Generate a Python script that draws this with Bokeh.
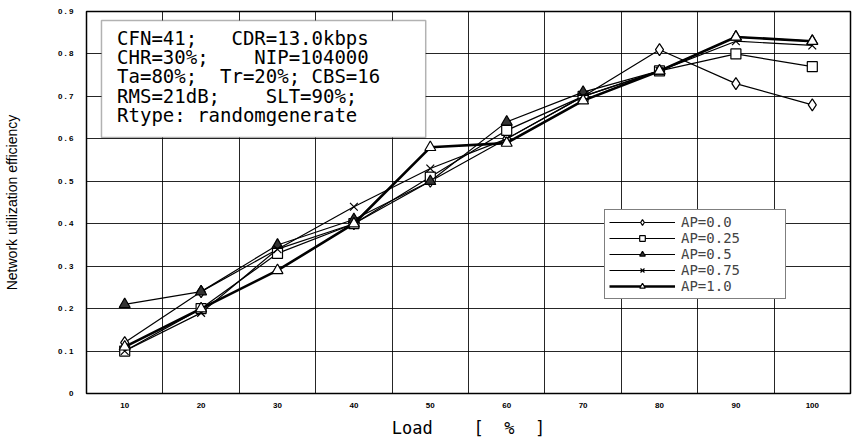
from bokeh.plotting import figure
from bokeh.models import FixedTicker, CustomJSTickFormatter, BoxAnnotation, Label, Range1d
from bokeh.embed import file_html
from bokeh.resources import INLINE

NB = "\u00a0"

# ---- data ----
load = [10, 20, 30, 40, 50, 60, 70, 80, 90, 100]
ap_00 = [0.12, 0.24, 0.34, 0.40, 0.50, 0.60, 0.70, 0.81, 0.73, 0.68]
ap_025 = [0.10, 0.20, 0.33, 0.40, 0.51, 0.62, 0.70, 0.76, 0.80, 0.77]
ap_05 = [0.21, 0.24, 0.35, 0.41, 0.50, 0.64, 0.71, 0.76, 0.84, 0.83]
ap_075 = [0.10, 0.19, 0.34, 0.44, 0.53, 0.60, 0.70, 0.76, 0.83, 0.82]
ap_10 = [0.11, 0.20, 0.29, 0.40, 0.58, 0.59, 0.69, 0.76, 0.84, 0.83]
series_names = ["AP=0.0", "AP=0.25", "AP=0.5", "AP=0.75", "AP=1.0"]
y_ticks = [0.0, 0.1, 0.2, 0.3, 0.4, 0.5, 0.6, 0.7, 0.8, 0.9]
info_lines = [
    "CFN=41;   CDR=13.0kbps",
    "CHR=30%;    NIP=104000",
    "Ta=80%;  Tr=20%; CBS=16",
    "RMS=21dB;    SLT=90%;",
    "Rtype: randomgenerate",
]
x_title = "Load    [  %  ]"
y_title = "Network utilization efficiency"

p = figure(width=852, height=440, output_backend="svg", toolbar_location=None,
           x_range=Range1d(5, 105), y_range=Range1d(0, 0.9),
           min_border_left=85, min_border_right=2, min_border_top=11, min_border_bottom=47,
           background_fill_color="white", border_fill_color="white")

p.outline_line_color = "black"
p.outline_line_width = 1.5

# grids (vertical lines between the load categories)
p.xgrid.ticker = FixedTicker(ticks=[v + 5 for v in load[:-1]])
p.ygrid.ticker = FixedTicker(ticks=y_ticks)
for g in (p.xgrid, p.ygrid):
    g.grid_line_color = "black"
    g.grid_line_width = 1
    g.grid_line_alpha = 0.85

# axes
p.xaxis.ticker = FixedTicker(ticks=load)
p.yaxis.ticker = FixedTicker(ticks=y_ticks)
p.yaxis.formatter = CustomJSTickFormatter(
    code="return tick < 0.001 ? '0' : tick.toFixed(1).replace('.', '\u00a0.\u00a0');")
for ax in (p.xaxis, p.yaxis):
    ax.major_tick_line_color = None
    ax.minor_tick_line_color = None
    ax.major_tick_out = 0
    ax.major_tick_in = 0
    ax.minor_tick_out = 0
    ax.minor_tick_in = 0
    ax.axis_line_color = None
    ax.major_label_text_font = "Liberation Sans"
    ax.major_label_text_font_style = "bold"
    ax.major_label_text_font_size = "8px"
    ax.major_label_text_color = "black"
    ax.axis_label_text_font_style = "normal"
    ax.axis_label_text_color = "black"
p.xaxis.major_label_standoff = 9
p.yaxis.major_label_standoff = 13

p.yaxis.axis_label = y_title
p.yaxis.axis_label_text_font = "Liberation Sans"
p.yaxis.axis_label_text_font_size = "14px"
p.yaxis.axis_label_standoff = 35

p.xaxis.axis_label = x_title.replace(" ", NB)
p.xaxis.axis_label_text_font = "DejaVu Sans Mono"
p.xaxis.axis_label_text_font_size = "17px"
p.xaxis.axis_label_standoff = 7

# series
styles = [
    (ap_00, "diamond", "white", 1.2, 12),
    (ap_025, "square", "white", 1.2, 10),
    (ap_05, "triangle", "#333333", 1.2, 11),
    (ap_075, "x", "white", 1.2, 11),
    (ap_10, "triangle", "white", 2.6, 11),
]
for (vals, marker, fill, lw, size), name in zip(styles, series_names):
    p.line(load, vals, line_color="black", line_width=lw, legend_label=name)
    p.scatter(load, vals, marker=marker, size=size, fill_color=fill,
              line_color="black", line_width=1.2, legend_label=name)

# parameter text box
box = BoxAnnotation(left=6.96, right=49.4, top=0.879, bottom=0.603,
                    fill_color="white", fill_alpha=1.0,
                    line_color="black", line_width=1.5)
p.add_layout(box)
line_y = [0.8365, 0.7917, 0.747, 0.702, 0.657]
for txt, yy in zip(info_lines, line_y):
    p.add_layout(Label(x=9.0, y=yy, text=txt.replace(" ", NB), text_font="DejaVu Sans Mono",
                       text_font_size="19px", text_baseline="middle",
                       text_color="black"))

# legend
lg = p.legend[0]
lg.location = (518, 94)
lg.border_line_color = "black"
lg.border_line_width = 1.5
lg.background_fill_alpha = 1.0
lg.label_text_font = "DejaVu Sans Mono"
lg.label_text_font_size = "14px"
lg.glyph_width = 66
lg.glyph_height = 14
lg.label_height = 14
lg.spacing = 0
lg.padding = 4
lg.margin = 0
lg.label_standoff = 6
lg.label_width = 100

open("out.html", "w").write(file_html(p, INLINE))
